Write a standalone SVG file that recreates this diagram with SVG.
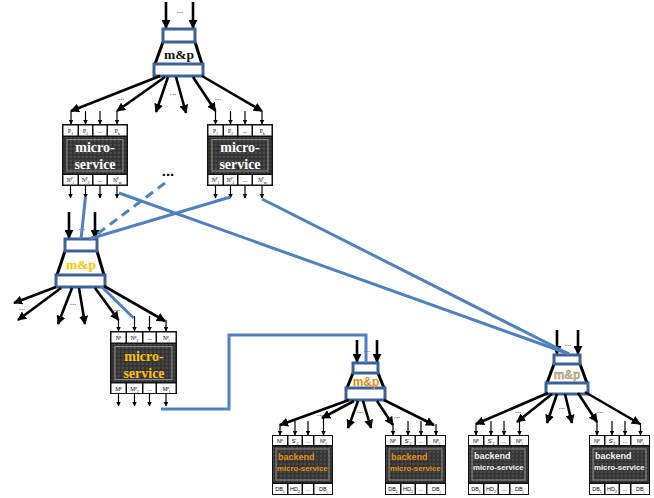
<svg xmlns="http://www.w3.org/2000/svg" width="654" height="498" viewBox="0 0 654 498">
<defs>
<marker id="ah" viewBox="0 0 10 10" refX="9" refY="5" markerWidth="9" markerHeight="9" markerUnits="userSpaceOnUse" orient="auto"><path d="M0,0 L10,5 L0,10 z" fill="#000"/></marker>
<marker id="as" viewBox="0 0 10 10" refX="9" refY="5" markerWidth="5" markerHeight="5" markerUnits="userSpaceOnUse" orient="auto"><path d="M0,0 L10,5 L0,10 z" fill="#000"/></marker>
<pattern id="tex" width="4" height="4" patternUnits="userSpaceOnUse"><rect width="4" height="4" fill="#383838"/><rect width="2" height="2" fill="#4a4a4a"/><rect x="2" y="2" width="1" height="1" fill="#262626"/></pattern>
</defs>
<style>
.a{stroke:#000;stroke-width:2.6;fill:none;marker-end:url(#ah)}
.s{stroke:#000;stroke-width:1.2;fill:none;marker-end:url(#as)}
.b{stroke:#4f81bd;stroke-width:3;fill:none}
.bd{stroke:#4f81bd;stroke-width:3;fill:none;stroke-dasharray:9 6}
.mr{fill:#fff;stroke:#3a6198;stroke-width:3}
.side{stroke:#000;stroke-width:3;fill:none}
.out{fill:#111}
.cell{fill:#fff}
.body{fill:url(#tex)}
.inner{fill:none;stroke:#8c8c8c;stroke-width:1}
.lab{font-family:"Liberation Serif",serif;font-size:5.5px;fill:#000;text-anchor:middle}
.labs{font-family:"Liberation Sans",sans-serif;font-size:5.5px;fill:#000;text-anchor:middle}
.mp{font-family:"Liberation Serif",serif;font-weight:bold;font-size:13.5px;text-anchor:middle}
.mps{font-family:"Liberation Sans",sans-serif;font-weight:bold;font-size:12px;text-anchor:middle}
.msT{font-family:"Liberation Serif",serif;font-weight:bold;font-size:14px;text-anchor:middle}
.bk{font-family:"Liberation Sans",sans-serif;font-weight:bold;font-size:9px}
.bk2{font-family:"Liberation Sans",sans-serif;font-weight:bold;font-size:7.8px}
.dots{font-family:"Liberation Sans",sans-serif;font-size:8px;fill:#000;text-anchor:middle}
</style>

<!-- m&p 1 (top) -->
<g id="mp1">
<line class="a" x1="166" y1="2" x2="166" y2="28"/>
<line class="a" x1="193" y1="2" x2="193" y2="28"/>
<text class="dots" x="180" y="13">...</text>
<line class="side" x1="163" y1="42" x2="155" y2="64"/>
<line class="side" x1="195" y1="42" x2="202" y2="64"/>
<rect class="mr" x="163" y="29" width="32" height="13"/>
<rect class="mr" x="154" y="64" width="49" height="12"/>
<text class="mp" x="179" y="59" fill="#111">m&amp;p</text>
</g>

<!-- m&p 2 (middle) -->
<g id="mp2">
<line class="a" x1="69" y1="212" x2="69" y2="238"/>
<line class="a" x1="95" y1="212" x2="95" y2="238"/>
<text class="dots" x="82" y="230">...</text>
<line class="side" x1="65" y1="251" x2="57" y2="275"/>
<line class="side" x1="97" y1="251" x2="104" y2="275"/>
<rect class="mr" x="65" y="239" width="32" height="12"/>
<rect class="mr" x="56" y="275" width="49" height="12"/>
<text class="mp" x="81" y="269" fill="#ffc000">m&amp;p</text>
</g>

<!-- m&p 4 (backend, left) -->
<g id="mp4">
<line class="a" x1="357" y1="340" x2="357" y2="362"/>
<line class="a" x1="377" y1="340" x2="377" y2="362"/>
<text class="dots" x="367" y="352">...</text>
<line class="side" x1="353" y1="373" x2="347" y2="388"/>
<line class="side" x1="378" y1="373" x2="384" y2="388"/>
<rect class="mr" x="353" y="363" width="25" height="10"/>
<rect class="mr" x="346" y="388" width="39" height="12"/>
<text class="mps" x="366" y="386" fill="#e98a0c">m&amp;p</text>
</g>

<!-- m&p 5 (backend, right) -->
<g id="mp5">
<line class="a" x1="557" y1="330" x2="557" y2="354"/>
<line class="a" x1="578" y1="330" x2="578" y2="354"/>
<text class="dots" x="568" y="346">...</text>
<line class="side" x1="554" y1="364" x2="547" y2="383"/>
<line class="side" x1="580" y1="364" x2="587" y2="383"/>
<rect class="mr" x="554" y="355" width="26" height="9"/>
<rect class="mr" x="546" y="383" width="42" height="11"/>
<text class="mps" x="567" y="379" fill="#cdb98a" stroke="#8a7a5a" stroke-width="0.3">m&amp;p</text>
</g>

<!-- microservice 1 -->
<g id="ms1" transform="translate(62,124)">
<rect class="out" x="0" y="0" width="66" height="62"/>
<rect class="cell" x="1.5" y="1.5" width="14" height="10"/>
<rect class="cell" x="17" y="1.5" width="13" height="10"/>
<rect class="cell" x="31.5" y="1.5" width="13" height="10"/>
<rect class="cell" x="46" y="1.5" width="18.5" height="10"/>
<rect class="body" x="1.5" y="13" width="63" height="36.5"/>
<rect class="inner" x="5" y="15.5" width="56" height="31.5"/>
<rect class="cell" x="1.5" y="51" width="14" height="9.5"/>
<rect class="cell" x="17" y="51" width="13" height="9.5"/>
<rect class="cell" x="31.5" y="51" width="13" height="9.5"/>
<rect class="cell" x="46" y="51" width="18.5" height="9.5"/>
<text class="lab" x="8.5" y="8.5">P<tspan baseline-shift="sub" font-size="3.5">1</tspan></text>
<text class="lab" x="23.5" y="8.5">P<tspan baseline-shift="sub" font-size="3.5">2</tspan></text>
<text class="lab" x="38" y="8.5">...</text>
<text class="lab" x="55.25" y="8.5">P<tspan baseline-shift="sub" font-size="3.5">k</tspan></text>
<text class="lab" x="8.5" y="58">N<tspan baseline-shift="super" font-size="3.5">P</tspan><tspan baseline-shift="sub" font-size="3.5">1</tspan></text>
<text class="lab" x="23.5" y="58">N<tspan baseline-shift="super" font-size="3.5">P</tspan><tspan baseline-shift="sub" font-size="3.5">2</tspan></text>
<text class="lab" x="38" y="58">...</text>
<text class="lab" x="55.25" y="58">N<tspan baseline-shift="super" font-size="3.5">P</tspan><tspan baseline-shift="sub" font-size="3.5">m</tspan></text>
<text class="msT" x="33" y="28" fill="#fff">micro-</text>
<text class="msT" x="33" y="45" fill="#fff">service</text>
</g>

<!-- microservice 2 -->
<g id="ms2" transform="translate(207,124)">
<rect class="out" x="0" y="0" width="66" height="62"/>
<rect class="cell" x="1.5" y="1.5" width="14" height="10"/>
<rect class="cell" x="17" y="1.5" width="13" height="10"/>
<rect class="cell" x="31.5" y="1.5" width="13" height="10"/>
<rect class="cell" x="46" y="1.5" width="18.5" height="10"/>
<rect class="body" x="1.5" y="13" width="63" height="36.5"/>
<rect class="inner" x="5" y="15.5" width="56" height="31.5"/>
<rect class="cell" x="1.5" y="51" width="14" height="9.5"/>
<rect class="cell" x="17" y="51" width="13" height="9.5"/>
<rect class="cell" x="31.5" y="51" width="13" height="9.5"/>
<rect class="cell" x="46" y="51" width="18.5" height="9.5"/>
<text class="lab" x="8.5" y="8.5">P<tspan baseline-shift="sub" font-size="3.5">1</tspan></text>
<text class="lab" x="23.5" y="8.5">P<tspan baseline-shift="sub" font-size="3.5">2</tspan></text>
<text class="lab" x="38" y="8.5">...</text>
<text class="lab" x="55.25" y="8.5">P<tspan baseline-shift="sub" font-size="3.5">k</tspan></text>
<text class="lab" x="8.5" y="58">N<tspan baseline-shift="super" font-size="3.5">P</tspan><tspan baseline-shift="sub" font-size="3.5">1</tspan></text>
<text class="lab" x="23.5" y="58">N<tspan baseline-shift="super" font-size="3.5">P</tspan><tspan baseline-shift="sub" font-size="3.5">2</tspan></text>
<text class="lab" x="38" y="58">...</text>
<text class="lab" x="55.25" y="58">N<tspan baseline-shift="super" font-size="3.5">P</tspan><tspan baseline-shift="sub" font-size="3.5">m</tspan></text>
<text class="msT" x="33" y="28" fill="#fff">micro-</text>
<text class="msT" x="33" y="45" fill="#fff">service</text>
</g>

<!-- microservice 3 -->
<g id="ms3" transform="translate(110,331)">
<rect class="out" x="0" y="0" width="67" height="63"/>
<rect class="cell" x="1.5" y="1.5" width="14" height="10"/>
<rect class="cell" x="17" y="1.5" width="15" height="10"/>
<rect class="cell" x="33.5" y="1.5" width="12" height="10"/>
<rect class="cell" x="47" y="1.5" width="18.5" height="10"/>
<rect class="body" x="1.5" y="13" width="64" height="38"/>
<rect class="inner" x="5" y="15.5" width="57" height="33"/>
<rect class="cell" x="1.5" y="52.5" width="14" height="9.5"/>
<rect class="cell" x="17" y="52.5" width="15" height="9.5"/>
<rect class="cell" x="33.5" y="52.5" width="12" height="9.5"/>
<rect class="cell" x="47" y="52.5" width="18.5" height="9.5"/>
<text class="lab" x="8.5" y="8.5">N<tspan baseline-shift="super" font-size="3.5">p</tspan></text>
<text class="lab" x="24.5" y="8.5">N<tspan baseline-shift="super" font-size="3.5">p</tspan><tspan baseline-shift="sub" font-size="3.5">2</tspan></text>
<text class="lab" x="39.5" y="8.5">...</text>
<text class="lab" x="56.25" y="8.5">N<tspan baseline-shift="super" font-size="3.5">p</tspan><tspan baseline-shift="sub" font-size="3.5">l</tspan></text>
<text class="lab" x="8.5" y="59.5">M<tspan baseline-shift="super" font-size="3.5">p</tspan></text>
<text class="lab" x="24.5" y="59.5">M<tspan baseline-shift="super" font-size="3.5">p</tspan><tspan baseline-shift="sub" font-size="3.5">2</tspan></text>
<text class="lab" x="39.5" y="59.5">...</text>
<text class="lab" x="56.25" y="59.5">M<tspan baseline-shift="super" font-size="3.5">p</tspan><tspan baseline-shift="sub" font-size="3.5">l</tspan></text>
<text class="msT" x="34" y="30" fill="#ffc000" font-size="15.5">micro-</text>
<text class="msT" x="34" y="47" fill="#ffc000" font-size="15.5">service</text>
</g>

<!-- backend microservices -->
<g id="bA" transform="translate(272,435)">
<rect class="out" x="0" y="0" width="61" height="60"/>
<rect class="cell" x="1" y="1" width="14" height="9"/>
<rect class="cell" x="16.5" y="1" width="13" height="9"/>
<rect class="cell" x="31" y="1" width="10" height="9"/>
<rect class="cell" x="42.5" y="1" width="17.5" height="9"/>
<rect class="body" x="1" y="11.5" width="59" height="36"/>
<rect class="inner" x="4" y="14" width="53" height="31"/>
<rect class="cell" x="1" y="49" width="14" height="10"/>
<rect class="cell" x="16.5" y="49" width="13" height="10"/>
<rect class="cell" x="31" y="49" width="10" height="10"/>
<rect class="cell" x="42.5" y="49" width="17.5" height="10"/>
<text class="labs" x="8" y="7.5">N<tspan baseline-shift="super" font-size="3.5">p</tspan></text>
<text class="labs" x="23" y="7.5">S'<tspan baseline-shift="sub" font-size="3.5">2</tspan></text>
<text class="labs" x="36" y="7.5">...</text>
<text class="labs" x="51.25" y="7.5">N<tspan baseline-shift="super" font-size="3.5">p</tspan><tspan baseline-shift="sub" font-size="3.5">l</tspan></text>
<text class="labs" x="8" y="56">DB<tspan baseline-shift="sub" font-size="3.5">1</tspan></text>
<text class="labs" x="23" y="56">HD<tspan baseline-shift="sub" font-size="3.5">2</tspan></text>
<text class="labs" x="36" y="56">...</text>
<text class="labs" x="51.25" y="56">DB<tspan baseline-shift="sub" font-size="3.5">j</tspan></text>
<text class="bk" x="6" y="25" fill="#e8900a">backend</text>
<text class="bk2" x="5" y="36" fill="#e8900a">micro-service</text>
</g>

<g id="bB" transform="translate(385,435)">
<rect class="out" x="0" y="0" width="61" height="60"/>
<rect class="cell" x="1" y="1" width="14" height="9"/>
<rect class="cell" x="16.5" y="1" width="13" height="9"/>
<rect class="cell" x="31" y="1" width="10" height="9"/>
<rect class="cell" x="42.5" y="1" width="17.5" height="9"/>
<rect class="body" x="1" y="11.5" width="59" height="36"/>
<rect class="inner" x="4" y="14" width="53" height="31"/>
<rect class="cell" x="1" y="49" width="14" height="10"/>
<rect class="cell" x="16.5" y="49" width="13" height="10"/>
<rect class="cell" x="31" y="49" width="10" height="10"/>
<rect class="cell" x="42.5" y="49" width="17.5" height="10"/>
<text class="labs" x="8" y="7.5">N<tspan baseline-shift="super" font-size="3.5">p</tspan></text>
<text class="labs" x="23" y="7.5">S'<tspan baseline-shift="sub" font-size="3.5">2</tspan></text>
<text class="labs" x="36" y="7.5">...</text>
<text class="labs" x="51.25" y="7.5">N<tspan baseline-shift="super" font-size="3.5">p</tspan><tspan baseline-shift="sub" font-size="3.5">l</tspan></text>
<text class="labs" x="8" y="56">DB<tspan baseline-shift="sub" font-size="3.5">1</tspan></text>
<text class="labs" x="23" y="56">HD<tspan baseline-shift="sub" font-size="3.5">2</tspan></text>
<text class="labs" x="36" y="56">...</text>
<text class="labs" x="51.25" y="56">DB<tspan baseline-shift="sub" font-size="3.5">j</tspan></text>
<text class="bk" x="6" y="25" fill="#e8900a">backend</text>
<text class="bk2" x="5" y="36" fill="#e8900a">micro-service</text>
</g>

<g id="bC" transform="translate(468,435)">
<rect class="out" x="0" y="0" width="61" height="60"/>
<rect class="cell" x="1" y="1" width="14" height="9"/>
<rect class="cell" x="16.5" y="1" width="13" height="9"/>
<rect class="cell" x="31" y="1" width="10" height="9"/>
<rect class="cell" x="42.5" y="1" width="17.5" height="9"/>
<rect class="body" x="1" y="11.5" width="59" height="36"/>
<rect class="inner" x="4" y="14" width="53" height="31"/>
<rect class="cell" x="1" y="49" width="14" height="10"/>
<rect class="cell" x="16.5" y="49" width="13" height="10"/>
<rect class="cell" x="31" y="49" width="10" height="10"/>
<rect class="cell" x="42.5" y="49" width="17.5" height="10"/>
<text class="labs" x="8" y="7.5">N<tspan baseline-shift="super" font-size="3.5">p</tspan></text>
<text class="labs" x="23" y="7.5">S'<tspan baseline-shift="sub" font-size="3.5">2</tspan></text>
<text class="labs" x="36" y="7.5">...</text>
<text class="labs" x="51.25" y="7.5">N<tspan baseline-shift="super" font-size="3.5">p</tspan><tspan baseline-shift="sub" font-size="3.5">l</tspan></text>
<text class="labs" x="8" y="56">DB<tspan baseline-shift="sub" font-size="3.5">1</tspan></text>
<text class="labs" x="23" y="56">HD<tspan baseline-shift="sub" font-size="3.5">2</tspan></text>
<text class="labs" x="36" y="56">...</text>
<text class="labs" x="51.25" y="56">DB<tspan baseline-shift="sub" font-size="3.5">j</tspan></text>
<text class="bk" x="6" y="24" fill="#f2f2f2">backend</text>
<text class="bk2" x="5" y="35" fill="#f2f2f2">micro-service</text>
</g>

<g id="bD" transform="translate(589,435)">
<rect class="out" x="0" y="0" width="61" height="60"/>
<rect class="cell" x="1" y="1" width="14" height="9"/>
<rect class="cell" x="16.5" y="1" width="13" height="9"/>
<rect class="cell" x="31" y="1" width="10" height="9"/>
<rect class="cell" x="42.5" y="1" width="17.5" height="9"/>
<rect class="body" x="1" y="11.5" width="59" height="36"/>
<rect class="inner" x="4" y="14" width="53" height="31"/>
<rect class="cell" x="1" y="49" width="14" height="10"/>
<rect class="cell" x="16.5" y="49" width="13" height="10"/>
<rect class="cell" x="31" y="49" width="10" height="10"/>
<rect class="cell" x="42.5" y="49" width="17.5" height="10"/>
<text class="labs" x="8" y="7.5">N<tspan baseline-shift="super" font-size="3.5">p</tspan></text>
<text class="labs" x="23" y="7.5">S'<tspan baseline-shift="sub" font-size="3.5">2</tspan></text>
<text class="labs" x="36" y="7.5">...</text>
<text class="labs" x="51.25" y="7.5">N<tspan baseline-shift="super" font-size="3.5">p</tspan><tspan baseline-shift="sub" font-size="3.5">l</tspan></text>
<text class="labs" x="8" y="56">DB<tspan baseline-shift="sub" font-size="3.5">1</tspan></text>
<text class="labs" x="23" y="56">HD<tspan baseline-shift="sub" font-size="3.5">2</tspan></text>
<text class="labs" x="36" y="56">...</text>
<text class="labs" x="51.25" y="56">DB<tspan baseline-shift="sub" font-size="3.5">j</tspan></text>
<text class="bk" x="6" y="24" fill="#f2f2f2">backend</text>
<text class="bk2" x="5" y="35" fill="#f2f2f2">micro-service</text>
</g>

<!-- connectors -->
<g id="connectors">
<line class="a" x1="160" y1="76" x2="71" y2="111"/>
<line class="a" x1="165" y1="77" x2="117" y2="111"/>
<line class="a" x1="168" y1="77" x2="156" y2="112"/>
<line class="a" x1="176" y1="77" x2="186" y2="113"/>
<line class="a" x1="193" y1="77" x2="215.5" y2="111"/>
<line class="a" x1="202" y1="76" x2="262" y2="111"/>
<text class="dots" x="121" y="100">...</text>
<text class="dots" x="173" y="95">...</text>
<text class="dots" x="218" y="100">...</text>
<line class="s" x1="71" y1="111" x2="71" y2="124"/>
<line class="s" x1="85.5" y1="111" x2="85.5" y2="124"/>
<line class="s" x1="100" y1="111" x2="100" y2="124"/>
<line class="s" x1="117" y1="111" x2="117" y2="124"/>
<line class="s" x1="70.5" y1="186" x2="70.5" y2="198"/>
<line class="s" x1="85.5" y1="186" x2="85.5" y2="198"/>
<line class="s" x1="100" y1="186" x2="100" y2="198"/>
<line class="s" x1="117" y1="186" x2="117" y2="198"/>
<line class="s" x1="215.5" y1="111" x2="215.5" y2="124"/>
<line class="s" x1="230.5" y1="111" x2="230.5" y2="124"/>
<line class="s" x1="245" y1="111" x2="245" y2="124"/>
<line class="s" x1="262" y1="111" x2="262" y2="124"/>
<line class="s" x1="215.5" y1="186" x2="215.5" y2="198"/>
<line class="s" x1="230.5" y1="186" x2="230.5" y2="198"/>
<line class="s" x1="245" y1="186" x2="245" y2="198"/>
<line class="s" x1="262" y1="186" x2="262" y2="198"/>
<text x="168" y="176" font-family="Liberation Sans, sans-serif" font-size="15" font-weight="bold" text-anchor="middle">...</text>
<line class="b" x1="85.5" y1="197" x2="81" y2="239"/>
<line class="bd" x1="165" y1="183" x2="92" y2="238"/>
<line class="b" x1="230.5" y1="197" x2="89" y2="239"/>
<line class="b" x1="119" y1="193" x2="569" y2="354"/>
<line class="b" x1="262" y1="199" x2="569" y2="354"/>
<line class="b" x1="101" y1="286" x2="133.5" y2="318"/>
<path class="b" d="M161,409 H229 V335 H366 V363"/>
<line class="a" x1="56" y1="287" x2="14" y2="303"/>
<line class="a" x1="61" y1="288" x2="18" y2="320"/>
<line class="a" x1="72" y1="288" x2="58" y2="324"/>
<line class="a" x1="79" y1="288" x2="85" y2="324"/>
<line class="a" x1="95" y1="288" x2="118.5" y2="320"/>
<line class="a" x1="104" y1="286" x2="165" y2="321"/>
<text class="dots" x="22" y="310">...</text>
<text class="dots" x="73" y="305">...</text>
<text class="dots" x="117" y="311">...</text>
<line class="s" x1="118.5" y1="319" x2="118.5" y2="331"/>
<line class="s" x1="134.5" y1="316" x2="134.5" y2="331"/>
<line class="s" x1="149.5" y1="316" x2="149.5" y2="331"/>
<line class="s" x1="166" y1="320" x2="166" y2="331"/>
<line class="s" x1="118.5" y1="394" x2="118.5" y2="406"/>
<line class="s" x1="134.5" y1="394" x2="134.5" y2="406"/>
<line class="s" x1="149.5" y1="394" x2="149.5" y2="406"/>
<line class="s" x1="166" y1="394" x2="166" y2="406"/>
<line class="a" x1="349" y1="400" x2="280" y2="425"/>
<line class="a" x1="354" y1="401" x2="322" y2="418"/>
<line class="a" x1="358" y1="401" x2="348" y2="428"/>
<line class="a" x1="363" y1="401" x2="371" y2="428"/>
<line class="a" x1="377" y1="401" x2="393" y2="425"/>
<line class="a" x1="384" y1="400" x2="434" y2="425"/>
<text class="dots" x="320" y="416">...</text>
<text class="dots" x="360" y="413">...</text>
<text class="dots" x="397" y="418">...</text>
<line class="a" x1="548" y1="393" x2="476" y2="424"/>
<line class="a" x1="552" y1="394" x2="517" y2="422"/>
<line class="a" x1="557" y1="394" x2="547" y2="423"/>
<line class="a" x1="565" y1="394" x2="572" y2="423"/>
<line class="a" x1="578" y1="393" x2="597" y2="422"/>
<line class="a" x1="585" y1="392" x2="640" y2="424"/>
<text class="dots" x="518" y="413">...</text>
<text class="dots" x="562" y="409">...</text>
<text class="dots" x="600" y="413">...</text>
<line class="s" x1="280" y1="424" x2="280" y2="435"/>
<line class="s" x1="295" y1="421" x2="295" y2="435"/>
<line class="s" x1="308" y1="421" x2="308" y2="435"/>
<line class="s" x1="323.5" y1="418" x2="323.5" y2="435"/>
<line class="s" x1="393" y1="424" x2="393" y2="435"/>
<line class="s" x1="408" y1="421" x2="408" y2="435"/>
<line class="s" x1="421" y1="421" x2="421" y2="435"/>
<line class="s" x1="436" y1="424" x2="436" y2="435"/>
<line class="s" x1="476" y1="423" x2="476" y2="435"/>
<line class="s" x1="491" y1="421" x2="491" y2="435"/>
<line class="s" x1="504" y1="421" x2="504" y2="435"/>
<line class="s" x1="519.5" y1="421" x2="519.5" y2="435"/>
<line class="s" x1="597" y1="421" x2="597" y2="435"/>
<line class="s" x1="612" y1="421" x2="612" y2="435"/>
<line class="s" x1="625" y1="421" x2="625" y2="435"/>
<line class="s" x1="640.5" y1="423" x2="640.5" y2="435"/>
</g>
</svg>
